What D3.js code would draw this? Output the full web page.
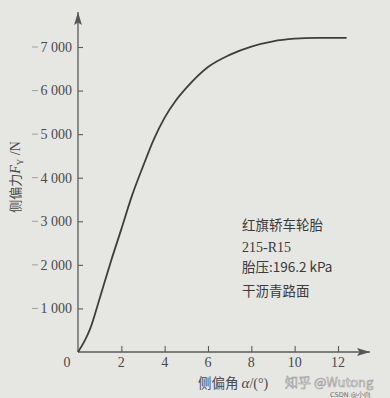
<!DOCTYPE html>
<html><head><meta charset="utf-8">
<script src="https://cdn.jsdelivr.net/npm/d3@7"></script>
<style>
html,body{margin:0;padding:0;background:#e6e6e3;}
svg{display:block;}
</style></head>
<body>
<svg id="c" width="390" height="398"></svg>
<script>
// Data
const slipAngle = [0, 0.3, 0.55, 1.0, 1.5, 2.0, 2.5, 3.0, 3.5, 4.0, 4.5, 5.0, 6.0, 7.0, 8.0, 9.0, 10.0, 11.0, 12.4];
const lateralForce = [0, 250, 520, 1230, 2050, 2820, 3600, 4260, 4880, 5380, 5760, 6060, 6540, 6820, 7010, 7130, 7190, 7210, 7210];
const xTicks = [2, 4, 6, 8, 10, 12];
const yTicks = [1000, 2000, 3000, 4000, 5000, 6000, 7000];
const yTickLabels = ["1 000", "2 000", "3 000", "4 000", "5 000", "6 000", "7 000"];
const noteLines = ["红旗轿车轮胎", "215-R15", "胎压:196.2 kPa", "干沥青路面"];

const svg = d3.select("#c");
const x0 = 78, y0 = 352;
const x = d3.scaleLinear().domain([0, 12]).range([x0, x0 + 260]);
const y = d3.scaleLinear().domain([0, 7000]).range([y0, y0 - 305]);

const ink = "#4a4a4a";
const serif = "'Liberation Serif','DejaVu Serif',serif";
const cjk = "'Noto Sans CJK SC','Liberation Serif',serif";

// axes lines with arrows
svg.append("defs").append("marker").attr("id","arr").attr("viewBox","0 0 10 6")
  .attr("refX",10).attr("refY",3).attr("markerWidth",10).attr("markerHeight",6)
  .attr("orient","auto").append("path").attr("d","M0,0L10,3L0,6L2,3Z").attr("fill","#555");

svg.append("line").attr("x1", x0).attr("y1", y0).attr("x2", x0).attr("y2", 12)
  .attr("stroke", "#5a5a5a").attr("stroke-width", 1.3).attr("marker-end","url(#arr)");
svg.append("line").attr("x1", x0).attr("y1", y0).attr("x2", 370).attr("y2", y0)
  .attr("stroke", "#5a5a5a").attr("stroke-width", 1.3).attr("marker-end","url(#arr)");

// y ticks (inward)
const yAxis = d3.axisRight(y).tickValues(yTicks).tickSize(5).tickFormat("");
const gy = svg.append("g").attr("transform", `translate(${x0},0)`).call(yAxis);
gy.select(".domain").remove();
gy.selectAll(".tick line").attr("stroke", "#5a5a5a").attr("stroke-width", 1.1);

yTicks.forEach((v, i) => {
  svg.append("line").attr("x1", 32).attr("x2", 38).attr("y1", y(v)).attr("y2", y(v))
    .attr("stroke", "#a0a0a0").attr("stroke-width", 1);
  svg.append("text").attr("x", 72).attr("y", y(v)).attr("dy", "0.35em")
    .attr("text-anchor", "end").attr("font-family", serif).attr("font-size", 14)
    .attr("fill", ink).text(yTickLabels[i]);
});

// x ticks (inward/up)
const xAxis = d3.axisTop(x).tickValues(xTicks).tickSize(6).tickFormat("");
const gx = svg.append("g").attr("transform", `translate(0,${y0})`).call(xAxis);
gx.select(".domain").remove();
gx.selectAll(".tick line").attr("stroke", "#5a5a5a").attr("stroke-width", 1.1);
xTicks.forEach(v => {
  svg.append("text").attr("x", x(v)).attr("y", 367).attr("text-anchor", "middle")
    .attr("font-family", serif).attr("font-size", 14).attr("fill", ink).text(v);
});
svg.append("text").attr("x", 67).attr("y", 367).attr("text-anchor", "middle")
  .attr("font-family", serif).attr("font-size", 14).attr("fill", ink).text("0");

// curve
const line = d3.line().x(d => x(d[0])).y(d => y(d[1])).curve(d3.curveMonotoneX);
svg.append("path").datum(slipAngle.map((a, i) => [a, lateralForce[i]]))
  .attr("d", line).attr("fill", "none").attr("stroke", "#3e3e3e").attr("stroke-width", 1.8);

// y title (rotated)
const yt = svg.append("text").attr("transform", "translate(20,177) rotate(-90)")
  .attr("text-anchor", "middle").attr("font-family", cjk).attr("font-size", 13).attr("fill", ink);
yt.append("tspan").text("侧偏力");
yt.append("tspan").attr("font-family", serif).attr("font-style", "italic").attr("font-size", 14).text("F");
yt.append("tspan").attr("font-family", serif).attr("font-size", 9).attr("dy", 3).text("Y");
yt.append("tspan").attr("font-family", serif).attr("font-size", 14).attr("dy", -3).text(" /N");

// x title
const xt = svg.append("text").attr("x", 198).attr("y", 388)
  .attr("font-family", cjk).attr("font-size", 13.5).attr("fill", ink);
xt.append("tspan").text("侧偏角 ");
xt.append("tspan").attr("font-family", serif).attr("font-style", "italic").attr("font-size", 15).text("α");
xt.append("tspan").attr("font-family", serif).attr("font-size", 14).text("/(°)");

// note
const noteY = [230, 252, 272, 296];
noteLines.forEach((t, i) => {
  svg.append("text").attr("x", 242).attr("y", noteY[i])
    .attr("font-family", i === 1 ? serif : cjk).attr("font-size", i === 1 ? 14 : 13.5)
    .attr("fill", "#3a3a3a").text(t);
});

// watermarks
svg.append("text").attr("x", 285).attr("y", 387).attr("font-family", "'Noto Sans CJK SC',sans-serif")
  .attr("font-size", 13).attr("fill", "#f4f4f4").attr("stroke", "#9a9a9a").attr("stroke-width", 0.6)
  .text("知乎 @Wutong");
svg.append("text").attr("x", 330).attr("y", 397).attr("font-family", "'DejaVu Sans',sans-serif")
  .attr("font-size", 6.5).attr("fill", "#6a6a6a").text("CSDN @小白");
</script>
</body></html>
